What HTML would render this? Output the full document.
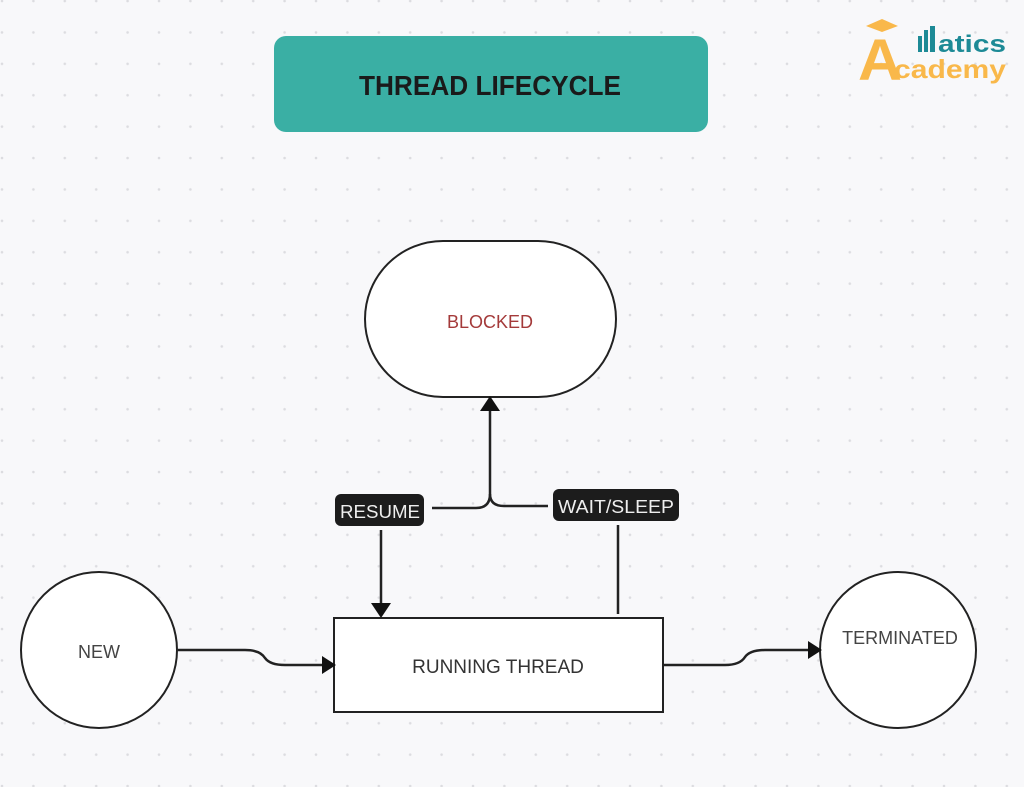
<!DOCTYPE html>
<html><head><style>
html,body{margin:0;padding:0;width:1024px;height:787px;overflow:hidden;background:#f8f8fa}
svg{display:block}
text{font-family:"Liberation Sans",sans-serif}
</style></head><body>
<svg width="1024" height="787" viewBox="0 0 1024 787">
<defs>
<pattern id="d" x="-1" y="-2" width="31.4" height="31.4" patternUnits="userSpaceOnUse">
<circle cx="3" cy="3" r="1.3" fill="#dcdce0"/></pattern>
</defs>
<rect width="1024" height="787" fill="#f8f8fa"/>
<rect width="1024" height="787" fill="url(#d)"/>
<rect x="274" y="36" width="434" height="96" rx="12" fill="#3aafa4"/>
<text x="490" y="95" text-anchor="middle" font-size="28" font-weight="bold" fill="#1a1a1a" textLength="262" lengthAdjust="spacingAndGlyphs">THREAD LIFECYCLE</text>
<!-- logo -->
<rect x="868" y="17" width="18" height="36" fill="#f8f8fa"/>
<text x="858" y="80" font-size="58" font-weight="bold" fill="#f9b84a" textLength="44" lengthAdjust="spacingAndGlyphs">A</text>
<polygon points="866,26 882,19 898,26 882,32" fill="#f9b84a"/>
<rect x="918" y="36" width="4" height="16" fill="#1d8a96"/>
<rect x="924" y="30" width="4" height="22" fill="#1d8a96"/>
<rect x="930" y="26" width="5" height="26" fill="#1d8a96"/>
<text x="938" y="52" font-size="24" font-weight="bold" fill="#1d8a96" textLength="68" lengthAdjust="spacingAndGlyphs">atics</text>
<text x="894" y="78" font-size="26" font-weight="bold" fill="#f9b84a" textLength="112" lengthAdjust="spacingAndGlyphs">cademy</text>
<!-- blocked -->
<rect x="365" y="241" width="251" height="156" rx="78" fill="#fff" stroke="#222" stroke-width="2"/>
<text x="490" y="328" text-anchor="middle" font-size="18" fill="#a43a3a">BLOCKED</text>
<!-- new -->
<circle cx="99" cy="650" r="78" fill="#fff" stroke="#222" stroke-width="2"/>
<text x="99" y="658" text-anchor="middle" font-size="18" fill="#444">NEW</text>
<!-- terminated -->
<circle cx="898" cy="650" r="78" fill="#fff" stroke="#222" stroke-width="2"/>
<text x="900" y="644" text-anchor="middle" font-size="18" fill="#444">TERMINATED</text>
<!-- running -->
<rect x="334" y="618" width="329" height="94" fill="#fff" stroke="#222" stroke-width="2"/>
<text x="498" y="673" text-anchor="middle" font-size="19" fill="#333">RUNNING THREAD</text>
<!-- connectors -->
<g fill="none" stroke="#222" stroke-width="2.5">
<path d="M178 650 H245 Q260 650 265 658 Q270 665 285 665 H322"/>
<path d="M663 665 H725 Q740 665 745 657 Q750 650 765 650 H808"/>
<path d="M432 508 H476 Q490 508 490 494 V410"/>
<path d="M548 506 H504 Q490 506 490 494"/>
<path d="M381 530 V604"/>
<path d="M618 525 V614"/>
</g>
<g fill="#111">
<polygon points="322,656 336,665 322,674"/>
<polygon points="808,641 822,650 808,659"/>
<polygon points="480,411 490,396 500,411"/>
<polygon points="371,603 381,618 391,603"/>
</g>
<rect x="335" y="494" width="89" height="32" rx="6" fill="#1c1c1c"/>
<text x="380" y="518" text-anchor="middle" font-size="18" fill="#eee" textLength="80" lengthAdjust="spacingAndGlyphs">RESUME</text>
<rect x="553" y="489" width="126" height="32" rx="6" fill="#1c1c1c"/>
<text x="616" y="513" text-anchor="middle" font-size="18" fill="#eee" textLength="116" lengthAdjust="spacingAndGlyphs">WAIT/SLEEP</text>
</svg>
</body></html>
